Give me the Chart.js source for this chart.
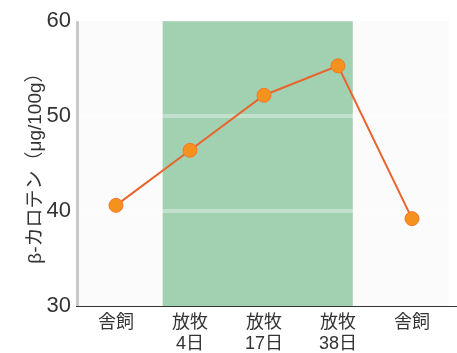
<!DOCTYPE html>
<html>
<head>
<meta charset="utf-8">
<script src="https://cdn.jsdelivr.net/npm/chart.js@4"></script>
<style>
  html, body { margin: 0; padding: 0; background: #fff; }
  #wrap { width: 457px; height: 353px; }
</style>
</head>
<body>
<div id="wrap"><canvas id="chart" width="457" height="353"></canvas></div>
<script>
// categories and values
const categories = [['舎飼'], ['放牧', '4日'], ['放牧', '17日'], ['放牧', '38日'], ['舎飼']];
const carotene = [40.6, 46.4, 52.2, 55.3, 39.2];
const yTicks = [30, 40, 50, 60];
const grazingSpan = [0.63, 3.2]; // shaded pasture period, in category units

const font = '"Liberation Sans", "Noto Sans CJK JP", sans-serif';

const backgroundPlugin = {
  id: 'pasture',
  beforeDraw(chart) {
    const { ctx, chartArea, scales } = chart;
    ctx.save();
    ctx.fillStyle = '#fbfbfb';
    ctx.fillRect(chartArea.left, chartArea.top, chartArea.right - chartArea.left, chartArea.bottom - chartArea.top);
    const x0 = scales.x.getPixelForValue(grazingSpan[0]);
    const x1 = scales.x.getPixelForValue(grazingSpan[1]);
    ctx.fillStyle = '#a2d1b2';
    ctx.fillRect(x0, chartArea.top, x1 - x0, chartArea.bottom - chartArea.top);
    ctx.restore();
  },
  afterDraw(chart) {
    const { ctx, chartArea } = chart;
    ctx.save();
    // left axis: light grey bar
    ctx.fillStyle = '#c8c8c8';
    ctx.fillRect(chartArea.left - 3, chartArea.top, 3, chartArea.bottom - chartArea.top);
    // bottom axis line
    ctx.strokeStyle = '#333';
    ctx.lineWidth = 1;
    ctx.beginPath();
    ctx.moveTo(chartArea.left - 3, chartArea.bottom + 0.5);
    ctx.lineTo(chart.width, chartArea.bottom + 0.5);
    ctx.stroke();
    ctx.restore();
  }
};

new Chart(document.getElementById('chart').getContext('2d'), {
  type: 'line',
  data: {
    labels: categories,
    datasets: [{
      data: carotene,
      borderColor: '#e8642c',
      borderWidth: 2,
      pointBackgroundColor: '#f5921e',
      pointBorderColor: '#f07a28',
      pointBorderWidth: 1,
      pointRadius: 7,
      tension: 0
    }]
  },
  options: {
    responsive: false,
    animation: false,
    layout: { padding: { top: 20, right: 2, left: 0, bottom: 0 } },
    plugins: { legend: { display: false }, tooltip: { enabled: false } },
    scales: {
      x: {
        offset: true,
        grid: { display: false, drawTicks: false },
        border: { display: false },
        ticks: {
          color: '#333',
          font: { family: font, size: 18 },
          padding: 6,
          maxRotation: 0
        },
        afterFit(scale) { scale.height = 47; }
      },
      y: {
        min: 30,
        max: 60,
        afterBuildTicks(scale) { scale.ticks = yTicks.map(v => ({ value: v })); },
        grid: {
          color: ctx => (ctx.tick.value === 30 || ctx.tick.value === 60) ? 'rgba(0,0,0,0)' : 'rgba(255,255,255,0.35)',
          lineWidth: 4,
          drawTicks: false
        },
        border: { display: false },
        ticks: {
          color: '#333',
          font: { family: font, size: 22 },
          padding: 8
        },
        title: {
          display: true,
          text: 'β-カロテン（μg/100g）',
          color: '#333',
          font: { family: font, size: 19 },
          padding: { top: 24, bottom: 0 }
        },
        afterFit(scale) { scale.width = 79; }
      }
    }
  },
  plugins: [backgroundPlugin]
});
</script>
</body>
</html>
